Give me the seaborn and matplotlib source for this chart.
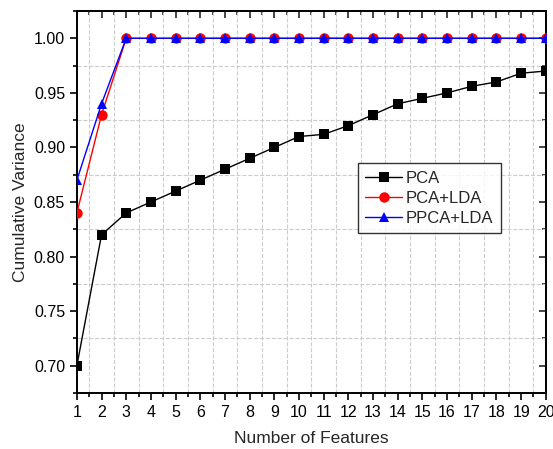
import numpy as np
import pandas as pd
import matplotlib.pyplot as plt
import seaborn as sns
from matplotlib.ticker import MultipleLocator

features = list(range(1, 21))
pca = [0.70, 0.82, 0.84, 0.85, 0.86, 0.87, 0.88, 0.89, 0.90, 0.91,
       0.912, 0.92, 0.93, 0.94, 0.945, 0.95, 0.956, 0.96, 0.968, 0.97]
pca_lda = [0.84, 0.93] + [1.0] * 18
ppca_lda = [0.87, 0.94] + [1.0] * 18
labels = ['PCA', 'PCA+LDA', 'PPCA+LDA']

df = pd.DataFrame({
    'Number of Features': features * 3,
    'Cumulative Variance': pca + pca_lda + ppca_lda,
    'Method': [labels[0]] * 20 + [labels[1]] * 20 + [labels[2]] * 20,
})

sns.set_style('ticks')
plt.rcParams['font.family'] = ['Liberation Sans', 'DejaVu Sans']

fig = plt.figure(figsize=(5.53, 4.49), dpi=100)
ax = fig.add_axes([0.139, 0.1247, 0.848, 0.8508])

sns.lineplot(data=df, x='Number of Features', y='Cumulative Variance',
             hue='Method', style='Method',
             palette={'PCA': 'black', 'PCA+LDA': 'red', 'PPCA+LDA': 'blue'},
             markers={'PCA': 's', 'PCA+LDA': 'o', 'PPCA+LDA': '^'},
             dashes=False, markersize=7.5, linewidth=1, markeredgewidth=0,
             ax=ax, zorder=3)

ax.set_xlim(1, 20)
ax.set_ylim(0.675, 1.025)
ax.xaxis.set_major_locator(MultipleLocator(1))
ax.xaxis.set_minor_locator(MultipleLocator(0.5))
ax.yaxis.set_major_locator(MultipleLocator(0.05))
ax.yaxis.set_minor_locator(MultipleLocator(0.025))
ax.yaxis.set_major_formatter(plt.FormatStrFormatter('%.2f'))

# Origin-style grid: dashed lines on the minor ticks only
ax.grid(False, which='major')
ax.grid(True, which='minor', linestyle='--', color='#cccccc', linewidth=0.8)
for s in ax.spines.values():
    s.set_linewidth(1.4)
    s.set_color('black')

ax.tick_params(which='both', direction='out', width=1.2, labelsize=11.5,
               colors='black')
ax.tick_params(which='major', length=5)
ax.tick_params(which='minor', length=3)

# mirrored ticks on top and right, pointing inward
top = ax.secondary_xaxis('top')
top.xaxis.set_major_locator(MultipleLocator(1))
top.xaxis.set_minor_locator(MultipleLocator(0.5))
top.tick_params(which='both', direction='in', width=1.2, labeltop=False)
top.tick_params(which='major', length=5)
top.tick_params(which='minor', length=3)
right = ax.secondary_yaxis('right')
right.yaxis.set_major_locator(MultipleLocator(0.05))
right.yaxis.set_minor_locator(MultipleLocator(0.025))
right.tick_params(which='both', direction='in', width=1.2, labelright=False)
right.tick_params(which='major', length=5)
right.tick_params(which='minor', length=3)
for sec in (top, right):
    for s in sec.spines.values():
        s.set_linewidth(1.4)

ax.set_xlabel('Number of Features', fontsize=12.5, labelpad=8)
ax.set_ylabel('Cumulative Variance', fontsize=12.5, labelpad=4)

leg = ax.legend(loc='upper left', bbox_to_anchor=(0.599, 0.602), fontsize=12,
                frameon=True, fancybox=False, edgecolor='black',
                handlelength=2.2, borderpad=0.45, labelspacing=0.3,
                handletextpad=0.25, borderaxespad=0)
leg.get_frame().set_linewidth(1.0)
leg.set_title(None)

fig.savefig('out.png', dpi=100)
